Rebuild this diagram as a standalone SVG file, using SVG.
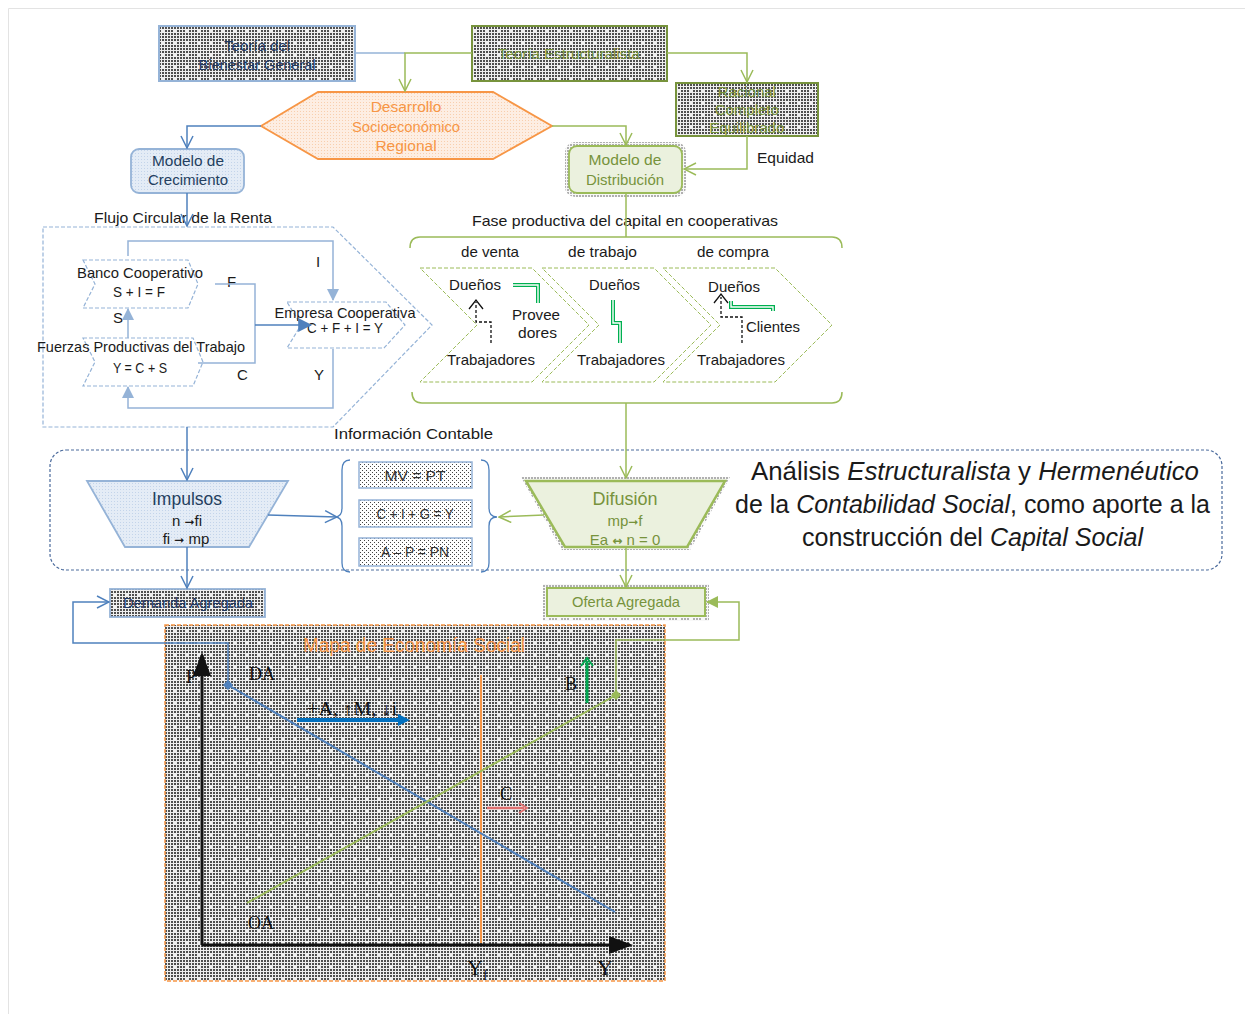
<svg xmlns="http://www.w3.org/2000/svg" width="1245" height="1014" viewBox="0 0 1245 1014">
<defs>
<style>
text{font-family:"Liberation Sans",Arial,sans-serif;font-size:15px;fill:#1a1a1a}
.c{text-anchor:middle}
.tm{font-family:"Liberation Serif","Times New Roman",serif;font-size:18px;fill:#111}
.ar{font-family:"DejaVu Sans",sans-serif;font-weight:bold}
.ln{fill:none;stroke-width:1.5}
.b{stroke:#4f81bd}.lb{stroke:#95b3d7}.g{stroke:#9bbb59}
.dbt{fill:#1f3864}.gt{fill:#77933c}
.ch{fill:none;stroke:#9bbb59;stroke-width:1;stroke-dasharray:4 2}
.bch{fill:#fff;stroke:#95b3d7;stroke-width:1.2;stroke-dasharray:4 2}
.dbl{fill:none;stroke:#00b050;stroke-width:4}
.dbi{fill:none;stroke:#fff;stroke-width:1.4}
.blk{fill:none;stroke:#111;stroke-width:1.3;stroke-dasharray:3 2}
</style>
<pattern id="dk" width="12" height="12" patternUnits="userSpaceOnUse">
<rect width="12" height="12" fill="#f0f0f0"/>
<path d="M0 0h2v2h-2zM3 0h2v2h-2zM6 0h2v2h-2zM9 0h2v2h-2zM0 3h2v2h-2zM3 3h2v2h-2zM6 3h2v2h-2zM9 3h2v2h-2zM0 6h2v2h-2zM3 6h2v2h-2zM9 6h2v2h-2zM0 9h2v2h-2zM3 9h2v2h-2zM6 9h2v2h-2zM9 9h2v2h-2z" fill="#505050"/>
</pattern>
<pattern id="lt" width="4" height="4" patternUnits="userSpaceOnUse">
<rect width="4" height="4" fill="#fff"/><rect width="1" height="1" fill="#444"/><rect x="2" y="2" width="1" height="1" fill="#444"/>
</pattern>
<pattern id="or" width="3" height="3" patternUnits="userSpaceOnUse">
<rect width="3" height="3" fill="#fdeee3"/><rect width="1" height="1" fill="#f8cfae"/>
</pattern>
<pattern id="bl" width="3" height="3" patternUnits="userSpaceOnUse">
<rect width="3" height="3" fill="#e4ecf6"/><rect width="1" height="1" fill="#c3d4ea"/>
</pattern>
<marker id="ob" viewBox="0 0 14 14" refX="13" refY="7" markerWidth="14" markerHeight="14" markerUnits="userSpaceOnUse" orient="auto"><path d="M1 1L13 7L1 13" fill="none" stroke="#4f81bd" stroke-width="1.5"/></marker>
<marker id="og" viewBox="0 0 14 14" refX="13" refY="7" markerWidth="14" markerHeight="14" markerUnits="userSpaceOnUse" orient="auto"><path d="M1 1L13 7L1 13" fill="none" stroke="#9bbb59" stroke-width="1.5"/></marker>
<marker id="tb" viewBox="0 0 12 12" refX="11" refY="6" markerWidth="12" markerHeight="12" markerUnits="userSpaceOnUse" orient="auto"><path d="M0 0L12 6L0 12z" fill="#95b3d7"/></marker>
<marker id="tbd" viewBox="0 0 12 12" refX="11" refY="6" markerWidth="14" markerHeight="14" markerUnits="userSpaceOnUse" orient="auto"><path d="M0 0L12 6L0 12z" fill="#4f81bd"/></marker>
<marker id="tg" viewBox="0 0 12 12" refX="11" refY="6" markerWidth="12" markerHeight="12" markerUnits="userSpaceOnUse" orient="auto"><path d="M0 0L12 6L0 12z" fill="#9bbb59"/></marker>
<marker id="dm" viewBox="0 0 10 10" refX="5" refY="5" markerWidth="10" markerHeight="10" markerUnits="userSpaceOnUse"><path d="M5 0L10 5L5 10L0 5z" fill="#4f81bd"/></marker>
<marker id="dmg" viewBox="0 0 10 10" refX="5" refY="5" markerWidth="10" markerHeight="10" markerUnits="userSpaceOnUse"><path d="M5 0L10 5L5 10L0 5z" fill="#9bbb59"/></marker>
<marker id="ab" viewBox="0 0 8 6" refX="7" refY="3" markerWidth="8" markerHeight="6" orient="auto"><path d="M0 0L8 3L0 6z" fill="#111"/></marker>
</defs>

<rect width="1245" height="1014" fill="#fff"/>
<path d="M8.5 1014V8.5H1245" fill="none" stroke="#e3e3e3"/>

<g id="teoria-bienestar">
<rect x="159" y="26" width="196" height="55" fill="url(#dk)" stroke="#95b3d7" stroke-width="2"/>
<text class="c dbt" x="257" y="51">Teoría del</text>
<text class="c dbt" x="257" y="70" textLength="117" lengthAdjust="spacingAndGlyphs">Bienestar General</text>
</g>
<g id="teoria-estructuralista">
<rect x="472" y="26" width="195" height="55" fill="url(#dk)" stroke="#77933c" stroke-width="2"/>
<text class="c gt" x="569" y="59" textLength="142" lengthAdjust="spacingAndGlyphs">Teoría Estructuralista</text>
</g>
<g id="racional">
<rect x="676" y="83" width="142" height="53" fill="url(#dk)" stroke="#77933c" stroke-width="2"/>
<text class="c gt" x="747" y="97">Racional</text>
<text class="c gt" x="747" y="115">Completo</text>
<text class="c gt" x="747" y="133">Equilibrado</text>
</g>
<g id="desarrollo">
<polygon points="261,126 318,92 493,92 552,126 493,159 318,159" fill="url(#or)" stroke="#f79646" stroke-width="1.8"/>
<text class="c" x="406" y="112" style="fill:#f79646;font-size:15.5px">Desarrollo</text>
<text class="c" x="406" y="132" style="fill:#f79646;font-size:15.5px" textLength="108" lengthAdjust="spacingAndGlyphs">Socioeconómico</text>
<text class="c" x="406" y="151" style="fill:#f79646;font-size:15.5px">Regional</text>
</g>
<g id="modelo-crecimiento">
<rect x="131" y="149" width="113" height="44" rx="8" fill="url(#bl)" stroke="#95b3d7" stroke-width="1.8"/>
<text class="c" x="188" y="166" style="fill:#243f60" textLength="72" lengthAdjust="spacingAndGlyphs">Modelo de</text>
<text class="c" x="188" y="185" style="fill:#243f60" textLength="80" lengthAdjust="spacingAndGlyphs">Crecimiento</text>
</g>
<g id="modelo-distribucion">
<rect x="565" y="142" width="121" height="55" rx="10" fill="url(#dk)" opacity="0.45"/>
<rect x="569" y="146" width="113" height="47" rx="8" fill="#ebf1de" stroke="#9bbb59" stroke-width="1.8"/>
<text class="c gt" x="625" y="165" textLength="73" lengthAdjust="spacingAndGlyphs">Modelo de</text>
<text class="c gt" x="625" y="185" textLength="78" lengthAdjust="spacingAndGlyphs">Distribución</text>
</g>
<g id="equidad"><text x="757" y="163" textLength="57" lengthAdjust="spacingAndGlyphs">Equidad</text></g>

<g id="flujo-circular">
<polygon points="43,227 333,227 432,325 333,427 43,427" fill="none" stroke="#95b3d7" stroke-width="1.2" stroke-dasharray="4 2"/>
<text x="94" y="223" textLength="178" lengthAdjust="spacingAndGlyphs">Flujo Circular de la Renta</text>
</g>
<g id="banco">
<polygon class="bch" points="83,260 188,260 198,284 188,308 83,308 95,284"/>
<text class="c" x="140" y="278" textLength="126" lengthAdjust="spacingAndGlyphs">Banco Cooperativo</text>
<text class="c" x="139" y="297" textLength="52" lengthAdjust="spacingAndGlyphs">S + I = F</text>
</g>
<g id="fuerzas">
<polygon class="bch" points="83,338 193,338 203,362 193,386 83,386 95,362"/>
<text x="37" y="352" textLength="208" lengthAdjust="spacingAndGlyphs">Fuerzas Productivas del Trabajo</text>
<text class="c" x="140" y="373" textLength="54" lengthAdjust="spacingAndGlyphs">Y = C + S</text>
</g>
<g id="empresa">
<polygon class="bch" points="287,302 386,302 405,325 384,348 287,348 301,325" fill-opacity="0"/>
<text class="c" x="345" y="318" textLength="141" lengthAdjust="spacingAndGlyphs">Empresa Cooperativa</text>
<text class="c" x="345" y="333" style="font-size:14px" textLength="76" lengthAdjust="spacingAndGlyphs">C + F + I = Y</text>
</g>
<g id="flujo-labels">
<text x="227" y="287">F</text>
<text x="316" y="267">I</text>
<text x="113" y="323">S</text>
<text x="237" y="380">C</text>
<text x="314" y="380">Y</text>
<text x="334" y="439" textLength="159" lengthAdjust="spacingAndGlyphs">Información Contable</text>
</g>

<g id="fase-productiva">
<text x="472" y="226" textLength="306" lengthAdjust="spacingAndGlyphs">Fase productiva del capital en cooperativas</text>
<text x="461" y="257" textLength="58" lengthAdjust="spacingAndGlyphs">de venta</text>
<text x="568" y="257" textLength="69" lengthAdjust="spacingAndGlyphs">de trabajo</text>
<text x="697" y="257" textLength="72" lengthAdjust="spacingAndGlyphs">de compra</text>
</g>
<g id="coop-venta">
<polygon class="ch" points="420,268 532,268 589,325 532,382 420,382 477,325"/>
<text x="449" y="290" textLength="52" lengthAdjust="spacingAndGlyphs">Dueños</text>
<text x="512" y="320" textLength="48" lengthAdjust="spacingAndGlyphs">Provee</text>
<text x="518" y="338" textLength="39" lengthAdjust="spacingAndGlyphs">dores</text>
<text x="447" y="365" textLength="88" lengthAdjust="spacingAndGlyphs">Trabajadores</text>
<path class="blk" d="M491 343V322H476V302"/>
<path d="M469 309L476 300L483 309" fill="none" stroke="#111" stroke-width="1.3"/>
<path class="dbl" d="M513 285H538V303"/><path class="dbi" d="M513 285H538V303"/>
</g>
<g id="coop-trabajo">
<polygon class="ch" points="542,268 654,268 711,325 654,382 542,382 599,325"/>
<text x="589" y="290" textLength="51" lengthAdjust="spacingAndGlyphs">Dueños</text>
<text x="577" y="365" textLength="88" lengthAdjust="spacingAndGlyphs">Trabajadores</text>
<path class="dbl" d="M613 300V323H620V343"/><path class="dbi" d="M613 300V323H620V343"/>
</g>
<g id="coop-compra">
<polygon class="ch" points="663,268 775,268 832,325 775,382 663,382 720,325"/>
<text x="708" y="292" textLength="52" lengthAdjust="spacingAndGlyphs">Dueños</text>
<text x="746" y="332" textLength="54" lengthAdjust="spacingAndGlyphs">Clientes</text>
<text x="697" y="365" textLength="88" lengthAdjust="spacingAndGlyphs">Trabajadores</text>
<path class="blk" d="M742 343V317H721V297"/>
<path d="M714 303L721 294L728 303" fill="none" stroke="#111" stroke-width="1.3"/>
<path class="dbl" d="M731 301V307H773V311"/><path class="dbi" d="M731 301V307H773V311"/>
</g>

<g id="analisis-band">
<rect x="50" y="450" width="1172" height="120" rx="16" fill="none" stroke="#4a6a9c" stroke-width="1.2" stroke-dasharray="3 2"/>
<text x="751" y="480" style="font-size:25px" textLength="448" lengthAdjust="spacingAndGlyphs">Análisis <tspan font-style="italic">Estructuralista</tspan> y <tspan font-style="italic">Hermenéutico</tspan></text>
<text x="735" y="513" style="font-size:25px" textLength="475" lengthAdjust="spacingAndGlyphs">de la <tspan font-style="italic">Contabilidad Social</tspan>, como aporte a la</text>
<text x="802" y="546" style="font-size:25px" textLength="341" lengthAdjust="spacingAndGlyphs">construcción del <tspan font-style="italic">Capital Social</tspan></text>
</g>
<g id="impulsos">
<polygon points="87,481 288,481 249,547 125,547" fill="url(#bl)" stroke="#95b3d7" stroke-width="1.8"/>
<text class="c" x="187" y="505" style="font-size:18px;fill:#243f60" textLength="70" lengthAdjust="spacingAndGlyphs">Impulsos</text>
<text class="c" x="187" y="526">n <tspan class="ar" style="font-size:12px">➞</tspan>fi</text>
<text class="c" x="186" y="544">fi <tspan class="ar" style="font-size:12px">➞</tspan> mp</text>
</g>
<g id="mv-pt">
<rect x="359" y="462" width="113" height="26" fill="url(#lt)" stroke="#95b3d7" stroke-width="1.5"/>
<text class="c" x="415" y="481" style="fill:#333" textLength="61" lengthAdjust="spacingAndGlyphs">MV = PT</text>
</g>
<g id="ci-g-y">
<rect x="359" y="500" width="113" height="27" fill="url(#lt)" stroke="#95b3d7" stroke-width="1.5"/>
<text class="c" x="415" y="519" style="fill:#333" textLength="77" lengthAdjust="spacingAndGlyphs">C + I + G = Y</text>
</g>
<g id="a-p-pn">
<rect x="359" y="538" width="113" height="28" fill="url(#lt)" stroke="#95b3d7" stroke-width="1.5"/>
<text class="c" x="415" y="557" style="fill:#333" textLength="68" lengthAdjust="spacingAndGlyphs">A – P = PN</text>
</g>
<g id="difusion">
<polygon points="521,477 730,477 690,550 562,550" fill="url(#dk)" opacity="0.45"/>
<polygon points="526,481 725,481 687,547 565,547" fill="#ebf1de" stroke="#9bbb59" stroke-width="2.5"/>
<text class="c gt" x="625" y="505" style="font-size:18px" textLength="65" lengthAdjust="spacingAndGlyphs">Difusión</text>
<text class="c gt" x="625" y="526">mp<tspan class="ar" style="font-size:12px;fill:#77933c">➞</tspan>f</text>
<text class="c gt" x="625" y="545">Ea <tspan class="ar" style="font-size:12px;fill:#77933c">↔</tspan> n = 0</text>
</g>
<g id="demanda-agregada">
<rect x="110" y="589" width="155" height="28" fill="url(#dk)" stroke="#95b3d7" stroke-width="1.8"/>
<text class="c dbt" x="188" y="608" textLength="130" lengthAdjust="spacingAndGlyphs">Demanda Agregada</text>
</g>
<g id="oferta-agregada">
<rect x="543" y="584" width="166" height="37" fill="url(#dk)" opacity="0.45"/>
<rect x="547" y="588" width="158" height="28" fill="#ebf1de" stroke="#9bbb59" stroke-width="2"/>
<text class="c gt" x="626" y="607" textLength="108" lengthAdjust="spacingAndGlyphs">Oferta Agregada</text>
</g>

<g id="mapa-economia-social">
<rect x="165" y="625" width="500" height="356" fill="url(#dk)" stroke="#f79646" stroke-width="1.5" stroke-dasharray="4 2"/>
<text class="c" x="414" y="652" style="font-size:20px;fill:#f79646" textLength="222" lengthAdjust="spacingAndGlyphs">Mapa de Economía Social</text>
<path d="M202 945V655" stroke="#111" stroke-width="3" marker-end="url(#ab)"/>
<path d="M202 945H630" stroke="#111" stroke-width="3" marker-end="url(#ab)"/>
<path d="M481 675V943" stroke="#f79646" stroke-width="2"/>
<path d="M228 685L615 912" stroke="#4f81bd" stroke-width="2"/>
<path d="M247 903L616 695" stroke="#9bbb59" stroke-width="2"/>
<path d="M297 720H400" stroke="#0070c0" stroke-width="4"/>
<path d="M398 714L410 720L398 726z" fill="#0070c0"/>
<path d="M587 703V661" stroke="#00a650" stroke-width="3"/>
<path d="M581 666L587 658L593 666" fill="none" stroke="#00a650" stroke-width="2"/>
<path d="M487 808H524" stroke="#e07070" stroke-width="2.5"/>
<path d="M519 803L527 808L519 813" fill="none" stroke="#e07070" stroke-width="2"/>
<text class="tm" x="186" y="683">P</text>
<text class="tm" x="249" y="680">DA</text>
<text class="tm" x="248" y="929">OA</text>
<text class="tm" x="307" y="715" textLength="90" lengthAdjust="spacingAndGlyphs">+A, ↑M, ↓i</text>
<text class="tm" x="565" y="690">B</text>
<text class="tm" x="500" y="800">C</text>
<text class="tm" x="467" y="975" style="font-size:22px">Y<tspan dy="5" style="font-size:14px">f</tspan></text>
<text class="tm" x="597" y="975" style="font-size:22px">Y</text>
</g>

<g id="connectors">
<path class="ln lb" d="M355 53H405"/>
<path class="ln g" d="M472 53H405V91" marker-end="url(#og)"/>
<path class="ln g" d="M667 53H747V82" marker-end="url(#og)"/>
<path class="ln b" d="M261 126H187V148" marker-end="url(#ob)"/>
<path class="ln g" d="M552 126H626V145" marker-end="url(#og)"/>
<path class="ln g" d="M747 136V169H684" marker-end="url(#og)"/>
<path class="ln b" d="M187 193V226" marker-end="url(#ob)"/>
<path class="ln g" d="M626 193V237"/>
<path class="ln g" d="M626 403V478" marker-end="url(#og)"/>
<path class="ln b" d="M187 427V480" marker-end="url(#ob)"/>
<path class="ln b" d="M268 515L337 517" marker-end="url(#ob)"/>
<path class="ln g" d="M544 515L499 517" marker-end="url(#og)"/>
<path class="ln b" d="M187 547V588" marker-end="url(#ob)"/>
<path class="ln g" d="M626 547V587" marker-end="url(#og)"/>
<path class="ln b" d="M228 685V643H73V602H109" marker-start="url(#dm)" marker-end="url(#ob)"/>
<path class="ln g" d="M616 695V640H739V602H707" stroke-width="2" marker-start="url(#dmg)" marker-end="url(#tg)"/>
<path class="ln lb" d="M128 256V241H333V300" stroke-width="2" marker-end="url(#tb)"/>
<path class="ln lb" d="M128 338V309" stroke-width="2" marker-end="url(#tb)"/>
<path class="ln lb" d="M333 349V408H128V387" stroke-width="2" marker-end="url(#tb)"/>
<path class="ln lb" d="M215 284H255V363H198" stroke-width="2"/>
<path class="ln b" d="M255 325H311" stroke-width="2.5" marker-end="url(#tbd)"/>
<path class="ln g" d="M410 248Q410 237 420 237H832Q842 237 842 248"/>
<path class="ln g" d="M412 392Q412 403 422 403H832Q842 403 842 392"/>
<path fill="none" stroke="#4f81bd" stroke-width="1.3" d="M350 460Q342 460 342 470V508Q342 517 335 517Q342 517 342 526V563Q342 572 350 572"/>
<path fill="none" stroke="#4f81bd" stroke-width="1.3" d="M481 460Q489 460 489 470V508Q489 517 497 517Q489 517 489 526V563Q489 572 481 572"/>
</g>
</svg>
